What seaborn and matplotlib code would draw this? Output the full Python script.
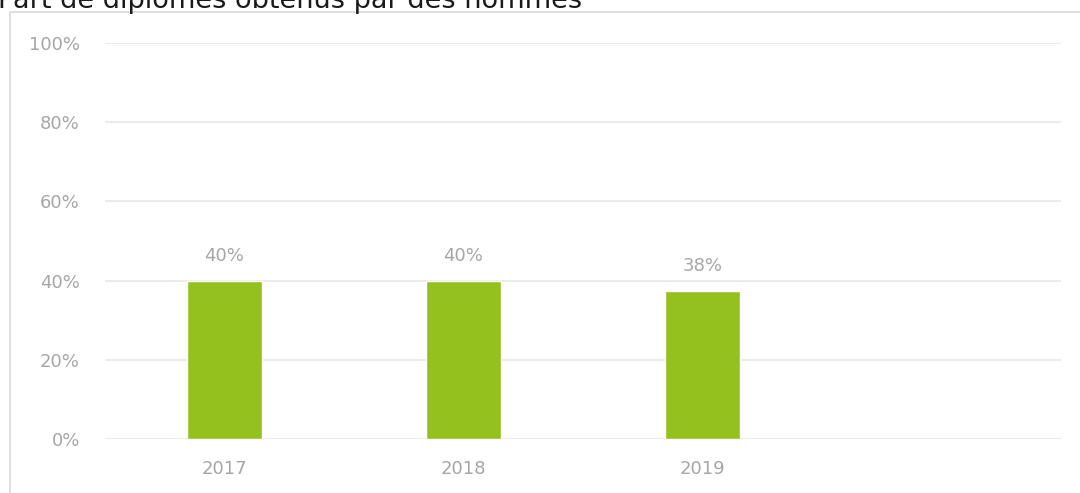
import numpy as np
import matplotlib
matplotlib.use("Agg")
import matplotlib.pyplot as plt
import seaborn as sns
from matplotlib.patches import Rectangle

years = ["2017", "2018", "2019", ""]
share_men = [0.40, 0.40, 0.375, np.nan]
bar_labels = ["40%", "40%", "38%"]
yticks = [0, 0.2, 0.4, 0.6, 0.8, 1.0]

GREEN = "#95c11f"
TXT = "#a6a6a6"
GRID = "#ebebeb"

sns.set_theme(style="white")
plt.rcParams["font.family"] = ["DejaVu Sans"]

fig = plt.figure(figsize=(10.8, 4.93), dpi=100)
ax = fig.add_axes([0.0972, 0.1095, 0.885, 0.8033])

sns.barplot(x=years, y=share_men, order=years, color=GREEN, width=0.315,
            saturation=1, ax=ax, zorder=3)

ax.set_ylim(0, 1)
ax.set_xlim(-0.5, 3.5)
ax.set_yticks(yticks)
ax.set_yticklabels([f"{int(t*100)}%" for t in yticks])
for t in yticks:
    ax.axhline(t, color=GRID, lw=1.5, zorder=1)
for s in ax.spines.values():
    s.set_visible(False)
ax.tick_params(axis="y", length=0, labelsize=13, labelcolor=TXT, pad=18)
ax.tick_params(axis="x", length=0, labelsize=13, labelcolor=TXT, pad=15)

for i, lab in enumerate(bar_labels):
    ax.text(i, share_men[i] + 0.04, lab, ha="center", va="bottom",
            fontsize=13, color=TXT)

fig.patches.append(Rectangle((10 / 1080, -0.1), 1.1, 1 - 12 / 493 + 0.1,
                             transform=fig.transFigure, fill=False,
                             edgecolor="#d9d9d9", lw=1.2))
fig.text(-0.002, 1 - 8 / 493, "Part de diplômes obtenus par des hommes",
         fontsize=19.5, color="#1a1a1a", ha="left", va="baseline")

fig.savefig("out.png", dpi=100)
